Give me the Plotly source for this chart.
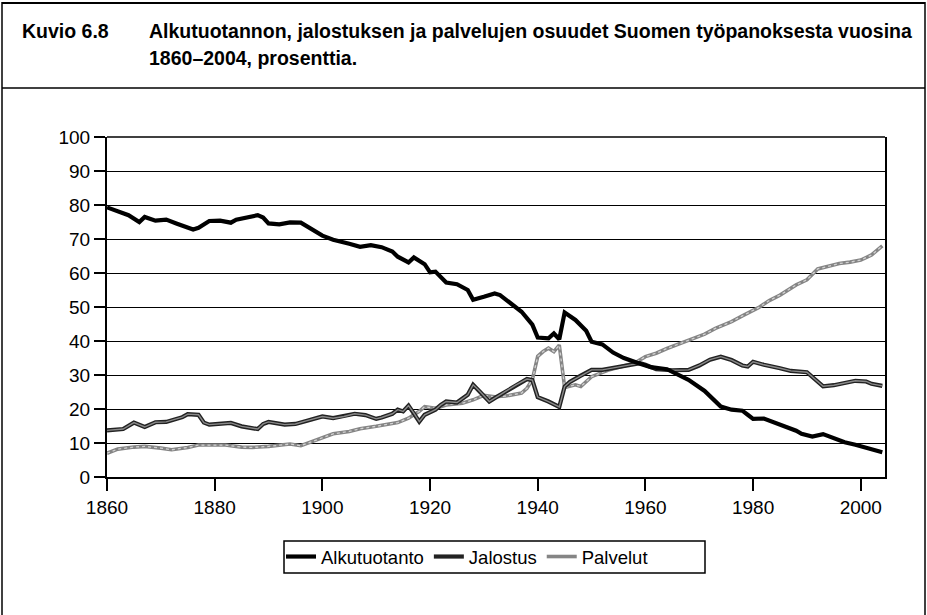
import plotly.graph_objects as go

# ---- data ----
alk_years = [1860, 1862, 1864, 1866, 1867, 1869, 1871, 1873, 1876, 1877, 1879, 1881, 1883, 1884,
             1886, 1888, 1889, 1890, 1892, 1894, 1896, 1898, 1900, 1902, 1903, 1905, 1907, 1909,
             1911, 1913, 1914, 1916, 1917, 1919, 1920, 1921, 1923, 1925, 1927, 1928, 1930, 1932,
             1933, 1935, 1937, 1939, 1940, 1942, 1943, 1944, 1945, 1947, 1949, 1950, 1952, 1954,
             1956, 1959, 1961, 1964, 1966, 1968, 1971, 1973, 1974, 1976, 1978, 1979, 1980, 1982,
             1984, 1986, 1988, 1989, 1991, 1993, 1995, 1997, 1999, 2001, 2003, 2004]
alk_vals = [79.3, 78.3, 77.0, 75.0, 76.5, 75.4, 75.7, 74.5, 72.8, 73.3, 75.3, 75.4, 74.8, 75.7,
            76.3, 77.0, 76.3, 74.6, 74.3, 74.9, 74.8, 72.8, 71.0, 69.8, 69.5, 68.6, 67.7, 68.2,
            67.6, 66.3, 64.8, 63.1, 64.6, 62.6, 60.2, 60.4, 57.2, 56.7, 55.0, 52.1, 53.0, 54.0,
            53.5, 51.1, 48.6, 44.8, 41.0, 40.8, 42.2, 40.5, 48.4, 46.2, 43.0, 39.8, 39.0, 36.6,
            35.0, 33.3, 32.3, 31.7, 30.2, 28.6, 25.3, 22.0, 20.7, 19.8, 19.5, 18.3, 17.1, 17.2,
            16.0, 15.0, 13.6, 12.7, 11.9, 12.6, 11.4, 10.2, 9.5, 8.5, 7.7, 7.3]

jal_years = [1860, 1863, 1865, 1867, 1869, 1871, 1874, 1875, 1877, 1878, 1879, 1881, 1883, 1885,
             1886, 1888, 1889, 1890, 1893, 1895, 1897, 1898, 1900, 1902, 1904, 1906, 1908, 1910,
             1911, 1913, 1914, 1915, 1916, 1917, 1918, 1919, 1921, 1922, 1923, 1925, 1927, 1928,
             1929, 1931, 1932, 1934, 1936, 1938, 1939, 1940, 1942, 1944, 1945, 1946, 1948, 1950,
             1952, 1955, 1957, 1959, 1960, 1962, 1965, 1968, 1970, 1972, 1974, 1976, 1978, 1979,
             1980, 1982, 1985, 1987, 1990, 1991, 1993, 1995, 1997, 1999, 2001, 2002, 2004]
jal_vals = [13.7, 14.1, 16.0, 14.7, 16.1, 16.2, 17.6, 18.5, 18.3, 16.0, 15.4, 15.6, 15.9, 14.9,
            14.7, 14.1, 15.6, 16.2, 15.4, 15.6, 16.5, 17.0, 17.8, 17.3, 17.8, 18.6, 18.2, 17.1,
            17.5, 18.6, 19.8, 19.3, 21.0, 18.8, 16.3, 18.3, 19.8, 21.2, 22.2, 21.9, 24.2, 27.1,
            25.6, 22.2, 23.2, 25.1, 27.1, 28.8, 28.5, 23.5, 22.2, 20.6, 26.6, 28.0, 29.8, 31.5,
            31.5, 32.3, 33.0, 33.5, 33.0, 31.7, 31.4, 31.5, 32.8, 34.5, 35.4, 34.4, 32.8, 32.5,
            33.9, 33.0, 32.0, 31.2, 30.8, 29.5, 26.7, 27.0, 27.6, 28.3, 28.1, 27.4, 26.8]

pal_years = [1860, 1862, 1865, 1867, 1870, 1872, 1875, 1877, 1880, 1882, 1885, 1887, 1890, 1892,
             1894, 1896, 1898, 1900, 1902, 1905, 1907, 1910, 1912, 1914, 1916, 1918, 1919, 1921,
             1923, 1926, 1928, 1930, 1932, 1934, 1937, 1938, 1939, 1940, 1941, 1942, 1943, 1944,
             1945, 1947, 1948, 1950, 1953, 1955, 1958, 1960, 1962, 1964, 1966, 1968, 1971, 1973,
             1976, 1978, 1981, 1983, 1985, 1988, 1990, 1992, 1994, 1996, 1998, 2000, 2002, 2004]
pal_vals = [7.0, 8.2, 8.8, 9.0, 8.5, 8.0, 8.7, 9.4, 9.4, 9.4, 8.8, 8.7, 9.0, 9.4,
            9.7, 9.2, 10.3, 11.5, 12.7, 13.4, 14.2, 14.9, 15.4, 16.0, 17.3, 19.3, 20.7, 20.2,
            21.2, 21.7, 22.7, 24.0, 23.6, 23.8, 24.7, 26.1, 28.6, 35.5, 36.9, 37.9, 36.9, 38.8,
            26.3, 27.1, 26.6, 29.5, 31.4, 32.3, 33.5, 35.4, 36.4, 37.8, 39.0, 40.3, 42.0, 43.7,
            45.7, 47.4, 49.8, 51.9, 53.5, 56.5, 58.0, 61.2, 62.0, 62.8, 63.2, 63.8, 65.3, 68.0]

series_names = ["Alkutuotanto", "Jalostus", "Palvelut"]
x_ticks = [1860, 1880, 1900, 1920, 1940, 1960, 1980, 2000]
y_ticks = [0, 10, 20, 30, 40, 50, 60, 70, 80, 90, 100]

title_left = "Kuvio 6.8"
title_line1 = "Alkutuotannon, jalostuksen ja palvelujen osuudet Suomen työpanoksesta vuosina"
title_line2 = "1860–2004, prosenttia."

FONT = "Liberation Sans, Arial, sans-serif"

W, H = 927, 615
L, R, T, B = 107, 885, 137, 477  # plot area in pixels


def px_x(p):
    return (p - L) / (R - L)


def px_y(p):
    return (B - p) / (B - T)


fig = go.Figure()

# Palvelut: grey speckled line
fig.add_trace(go.Scatter(x=pal_years, y=pal_vals, mode="lines", name=series_names[2],
                         line=dict(color="#858585", width=3.6), legendrank=3))
fig.add_trace(go.Scatter(x=pal_years, y=pal_vals, mode="lines", showlegend=False,
                         hoverinfo="skip",
                         line=dict(color="#d2d2d2", width=1.3, dash="dot")))
# Jalostus: dark outline with grey core
fig.add_trace(go.Scatter(x=jal_years, y=jal_vals, mode="lines", name=series_names[1],
                         line=dict(color="#222222", width=4.2), legendrank=2))
fig.add_trace(go.Scatter(x=jal_years, y=jal_vals, mode="lines", showlegend=False,
                         hoverinfo="skip",
                         line=dict(color="#8a8a8a", width=1.4)))
# Alkutuotanto: solid black
fig.add_trace(go.Scatter(x=alk_years, y=alk_vals, mode="lines", name=series_names[0],
                         line=dict(color="#000000", width=4.2), legendrank=1))

fig.update_xaxes(range=[1860, 2004.5], tickvals=x_ticks, ticks="outside", ticklen=12,
                 tickwidth=1.5, tickcolor="black", showline=True, linecolor="black",
                 linewidth=2, mirror=False, showgrid=False, zeroline=False,
                 tickfont=dict(family=FONT, size=19, color="black"))
fig.update_yaxes(range=[0, 100], tickvals=y_ticks, ticks="outside", ticklen=11,
                 tickwidth=1.5, tickcolor="black", showline=True, linecolor="black",
                 linewidth=2, mirror=True, showgrid=True, gridcolor="black", gridwidth=1.4,
                 zeroline=False, tickfont=dict(family=FONT, size=19, color="black"))

shapes = []
# outer frame and title separator
shapes.append(dict(type="line", xref="paper", yref="paper", x0=px_x(2), x1=px_x(2),
                   y0=px_y(2), y1=px_y(H + 5), line=dict(color="black", width=1.5)))
shapes.append(dict(type="line", xref="paper", yref="paper", x0=px_x(925), x1=px_x(925),
                   y0=px_y(2), y1=px_y(H + 5), line=dict(color="black", width=1.5)))
shapes.append(dict(type="line", xref="paper", yref="paper", x0=px_x(2), x1=px_x(925),
                   y0=px_y(3), y1=px_y(3), line=dict(color="black", width=2)))
shapes.append(dict(type="line", xref="paper", yref="paper", x0=px_x(2), x1=px_x(925),
                   y0=px_y(88), y1=px_y(88), line=dict(color="black", width=1.5)))
# top border of plot area
shapes.append(dict(type="line", xref="paper", yref="paper", x0=0, x1=1, y0=1, y1=1,
                   line=dict(color="black", width=1.5)))
# legend frame
shapes.append(dict(type="rect", xref="paper", yref="paper", x0=px_x(284), x1=px_x(705),
                   y0=px_y(541), y1=px_y(573), line=dict(color="black", width=1.5),
                   fillcolor="rgba(0,0,0,0)", layer="above"))

TFONT = dict(family=FONT, size=19.5, color="black")
annotations = [
    dict(text="<b>" + title_left + "</b>", xref="paper", yref="paper", x=px_x(20), y=px_y(31),
         xanchor="left", yanchor="middle", showarrow=False, font=TFONT),
    dict(text="<b>" + title_line1 + "</b>", xref="paper", yref="paper", x=px_x(147),
         y=px_y(31), xanchor="left", yanchor="middle", showarrow=False, font=TFONT),
    dict(text="<b>" + title_line2 + "</b>", xref="paper", yref="paper", x=px_x(147),
         y=px_y(58), xanchor="left", yanchor="middle", showarrow=False, font=TFONT),
]

fig.update_layout(
    width=W, height=H,
    margin=dict(l=L, r=W - R, t=T, b=H - B, autoexpand=False),
    paper_bgcolor="white", plot_bgcolor="white",
    font=dict(family=FONT, size=18, color="black"),
    showlegend=True,
    legend=dict(orientation="h", x=px_x(281), y=px_y(538), xanchor="left", yanchor="top",
                borderwidth=0, bgcolor="rgba(0,0,0,0)",
                font=dict(family=FONT, size=18.5, color="black"), itemwidth=30,
                tracegroupgap=0, traceorder="normal"),
    shapes=shapes,
    annotations=annotations,
)

fig.write_html("out.html", config={"displayModeBar": False},
               post_script="document.body.style.margin='0';")
